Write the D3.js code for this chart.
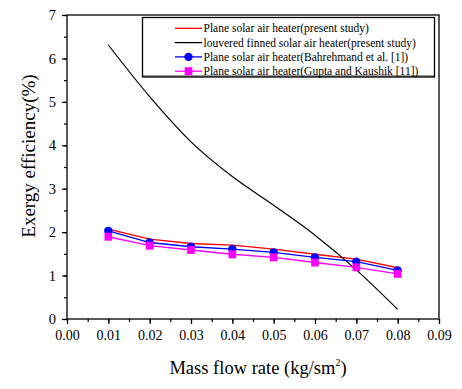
<!DOCTYPE html>
<html>
<head>
<meta charset="utf-8">
<script src="https://cdn.jsdelivr.net/npm/d3@7"></script>
</head>
<body style="margin:0;background:#fff">
<div id="chart"></div>
<script>
(function() {

    // data
    var massFlow = [0.01, 0.02, 0.03, 0.04, 0.05, 0.06, 0.07, 0.08];
    var planePresent = [2.07, 1.84, 1.74, 1.70, 1.61, 1.49, 1.38, 1.18];
    var louveredPresent = [6.31, 5.12, 4.08, 3.28, 2.62, 1.93, 1.13, 0.22];
    var planeBahrehmand = [2.03, 1.76, 1.665, 1.61, 1.535, 1.42, 1.32, 1.12];
    var planeGupta = [1.895, 1.69, 1.59, 1.49, 1.42, 1.30, 1.19, 1.04];
    var xTicks = [0, 0.01, 0.02, 0.03, 0.04, 0.05, 0.06, 0.07, 0.08, 0.09];
    var yTicks = [0, 1, 2, 3, 4, 5, 6, 7];

    var legendLabels = [
        "Plane solar air heater(present study)",
        "louvered finned solar air heater(present study)",
        "Plane solar air heater(Bahrehmand et al. [1])",
        "Plane solar air heater(Gupta and Kaushik [11])"
    ];

    var FONT = "Liberation Serif";
    var width = 462,
        height = 389;
    var margin = {left: 67, right: 23, top: 15, bottom: 70};

    var svg = d3.select("#chart")
        .append("svg")
        .attr("width", width)
        .attr("height", height)
        .attr("font-family", FONT);

    var x = d3.scaleLinear().domain([0, 0.09]).range([margin.left, width - margin.right]);
    var y = d3.scaleLinear().domain([0, 7]).range([height - margin.bottom, margin.top]);

    // frame
    svg.append("rect")
        .attr("x", x(0)).attr("y", y(7))
        .attr("width", x(0.09) - x(0)).attr("height", y(0) - y(7))
        .attr("fill", "none").attr("stroke", "#000").attr("stroke-width", 1.3);

    // minor ticks
    var xMinor = d3.range(0, 19).map(function(i) { return i * 0.005; });
    var yMinor = d3.range(0, 15).map(function(i) { return i * 0.5; });

    var xAxis = svg.append("g")
        .attr("transform", "translate(0," + y(0) + ")")
        .call(d3.axisBottom(x).tickValues(xMinor).tickSize(3).tickFormat(""));
    xAxis.select(".domain").remove();
    svg.append("g")
        .attr("transform", "translate(0," + y(0) + ")")
        .call(d3.axisBottom(x).tickValues(xTicks).tickSize(5).tickPadding(6)
            .tickFormat(d3.format(".2f")))
        .attr("font-family", FONT)
        .attr("font-size", 14)
        .call(function(g) { g.select(".domain").remove(); });

    var yAxis = svg.append("g")
        .attr("transform", "translate(" + x(0) + ",0)")
        .call(d3.axisLeft(y).tickValues(yMinor).tickSize(3).tickFormat(""));
    yAxis.select(".domain").remove();
    svg.append("g")
        .attr("transform", "translate(" + x(0) + ",0)")
        .call(d3.axisLeft(y).tickValues(yTicks).tickSize(5).tickPadding(6)
            .tickFormat(d3.format("d")))
        .attr("font-family", FONT)
        .attr("font-size", 14.5)
        .call(function(g) { g.select(".domain").remove(); });

    svg.selectAll(".tick line").attr("stroke", "#000").attr("stroke-width", 1.2);
    svg.selectAll(".tick text").attr("fill", "#000");

    // axis titles
    var xt = svg.append("text")
        .attr("x", 258)
        .attr("y", 374)
        .attr("text-anchor", "middle")
        .attr("font-size", 18.5)
        .text("Mass flow rate (kg/sm");
    xt.append("tspan").attr("dy", -8).attr("font-size", 10).text("2");
    xt.append("tspan").attr("dy", 8).text(")");

    svg.append("text")
        .attr("transform", "translate(35,156) rotate(-90)")
        .attr("text-anchor", "middle")
        .attr("font-size", 19)
        .text("Exergy efficiency(%)");

    // lines
    var line = d3.line()
        .x(function(d, i) { return x(massFlow[i]); })
        .y(function(d) { return y(d); });

    svg.append("path").datum(planePresent)
        .attr("d", line).attr("fill", "none")
        .attr("stroke", "#ff0000").attr("stroke-width", 1.4);

    svg.append("path").datum(louveredPresent)
        .attr("d", line.curve(d3.curveMonotoneX)).attr("fill", "none")
        .attr("stroke", "#000").attr("stroke-width", 1.2);
    line.curve(d3.curveLinear);

    svg.append("path").datum(planeBahrehmand)
        .attr("d", line).attr("fill", "none")
        .attr("stroke", "#0000ff").attr("stroke-width", 1.4);

    svg.append("path").datum(planeGupta)
        .attr("d", line).attr("fill", "none")
        .attr("stroke", "#ff00ff").attr("stroke-width", 1.4);

    svg.selectAll(".dot")
        .data(planeBahrehmand)
        .enter().append("circle")
        .attr("class", "dot")
        .attr("cx", function(d, i) { return x(massFlow[i]); })
        .attr("cy", function(d) { return y(d); })
        .attr("r", 4.2)
        .attr("fill", "#0000ff");

    svg.selectAll(".sq")
        .data(planeGupta)
        .enter().append("rect")
        .attr("class", "sq")
        .attr("x", function(d, i) { return x(massFlow[i]) - 3.8; })
        .attr("y", function(d) { return y(d) - 4; })
        .attr("width", 7.6)
        .attr("height", 8)
        .attr("fill", "#ff00ff");

    // legend
    var lg = svg.append("g");
    lg.append("rect")
        .attr("x", 142.5).attr("y", 17.5)
        .attr("width", 292).attr("height", 59.5)
        .attr("fill", "#fff").attr("stroke", "#000").attr("stroke-width", 1.3);
    lg.append("line")
        .attr("x1", 142.5).attr("x2", 434.5).attr("y1", 76).attr("y2", 76)
        .attr("stroke", "#000").attr("stroke-width", 0.8);

    var legColors = ["#ff0000", "#000000", "#0000ff", "#ff00ff"];
    var rows = lg.selectAll(".leg")
        .data(legendLabels)
        .enter().append("g")
        .attr("class", "leg")
        .attr("transform", function(d, i) { return "translate(0," + (28.3 + i * 14.3) + ")"; });

    rows.append("line")
        .attr("x1", 175).attr("x2", 202)
        .attr("stroke", function(d, i) { return legColors[i]; })
        .attr("stroke-width", 1.3);

    rows.append("text")
        .attr("x", 203.5).attr("y", 4)
        .attr("font-size", 11.5)
        .text(function(d) { return d; });

    lg.append("circle")
        .attr("cx", 188.5).attr("cy", 28.3 + 2 * 14.3).attr("r", 4.2).attr("fill", "#0000ff");
    lg.append("rect")
        .attr("x", 184.7).attr("y", 28.3 + 3 * 14.3 - 4).attr("width", 7.6).attr("height", 8)
        .attr("fill", "#ff00ff");
})();
</script>
</body>
</html>
